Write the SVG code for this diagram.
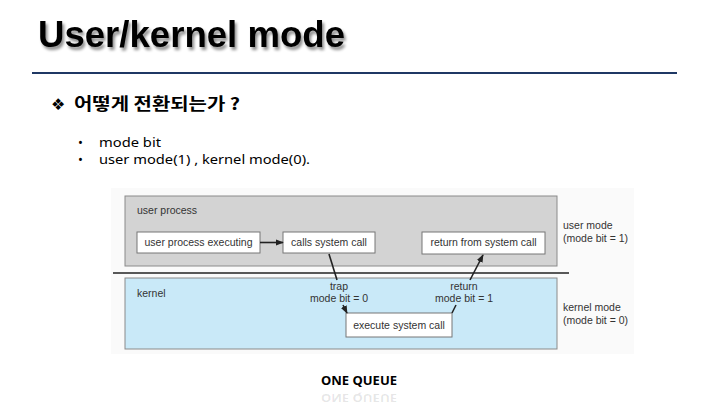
<svg xmlns="http://www.w3.org/2000/svg" width="720" height="405" viewBox="0 0 720 405">
<defs>
<style>
.t{font-family:"Liberation Sans",Arial,sans-serif;font-size:10.5px;fill:#333}
.box{fill:#fff;stroke:#777;stroke-width:1}
.conn{stroke:#222;stroke-width:1.6;fill:none}
.kr{font-family:"Noto Sans CJK KR","Noto Sans",sans-serif}
.cap{font-family:"Noto Sans","Liberation Sans",sans-serif;font-weight:bold;font-size:13px;fill:#000}
</style>
<marker id="ah" viewBox="0 0 10 10" refX="9" refY="5" markerWidth="5" markerHeight="5" orient="auto">
<path d="M0,1 L10,5 L0,9 z" fill="#222"/>
</marker>
<filter id="sh" x="-5%" y="-20%" width="115%" height="150%">
<feGaussianBlur in="SourceAlpha" stdDeviation="1.5"/>
<feOffset dx="2" dy="3" result="b"/>
<feComponentTransfer><feFuncA type="linear" slope="0.45"/></feComponentTransfer>
<feMerge><feMergeNode/><feMergeNode in="SourceGraphic"/></feMerge>
</filter>
</defs>
<rect width="720" height="405" fill="#fff"/>
<g id="title">
<text x="38" y="47" font-family="'Liberation Sans',Arial,sans-serif" font-weight="bold" font-size="36" fill="#000" textLength="307" lengthAdjust="spacingAndGlyphs" filter="url(#sh)">User/kernel mode</text>
<line x1="32" y1="73" x2="677" y2="73" stroke="#1F3864" stroke-width="2"/>
</g>
<g id="heading">
<text x="51" y="110" font-family="'DejaVu Sans',sans-serif" font-size="16" fill="#000">❖</text>
<text x="74" y="110" class="kr" font-weight="bold" font-size="17" fill="#000" textLength="166" lengthAdjust="spacingAndGlyphs">어떻게 전환되는가 ?</text>
</g>
<g id="bullets" font-family="'Noto Sans','Liberation Sans',sans-serif" font-size="13" fill="#000">
<text x="78" y="147">•</text>
<text x="99" y="147" textLength="62" lengthAdjust="spacingAndGlyphs">mode bit</text>
<text x="78" y="164">•</text>
<text x="99" y="164" textLength="211" lengthAdjust="spacingAndGlyphs">user mode(1) , kernel mode(0).</text>
</g>
<rect x="111" y="188" width="523" height="166" fill="#fafafa"/>
<g id="user-area">
<rect x="125" y="196" width="432" height="70" fill="#d3d3d3" stroke="#8a8a8a" stroke-width="1"/>
<text class="t" x="137" y="214">user process</text>
</g>
<g id="kernel-area">
<rect x="125" y="278" width="432" height="71" fill="#c9e9f8" stroke="#8a8a8a" stroke-width="1"/>
<text class="t" x="137" y="297">kernel</text>
</g>
<line x1="113" y1="273" x2="569" y2="273" stroke="#222" stroke-width="1.6"/>
<g id="user-process-executing">
<rect class="box" x="137" y="232" width="123" height="21"/>
<text class="t" x="198.5" y="246" text-anchor="middle">user process executing</text>
</g>
<g id="calls-system-call">
<rect class="box" x="283" y="232" width="92" height="21"/>
<text class="t" x="329" y="246" text-anchor="middle">calls system call</text>
</g>
<g id="return-from-system-call">
<rect class="box" x="422" y="232" width="123" height="22"/>
<text class="t" x="483.5" y="246" text-anchor="middle">return from system call</text>
</g>
<g id="execute-system-call">
<rect class="box" x="346" y="313" width="106" height="24"/>
<text class="t" x="399" y="329" text-anchor="middle">execute system call</text>
</g>
<g id="mode-labels">
<text class="t" x="563" y="229">user mode</text>
<text class="t" x="563" y="242">(mode bit = 1)</text>
<text class="t" x="563" y="311">kernel mode</text>
<text class="t" x="563" y="324">(mode bit = 0)</text>
</g>
<g id="connectors">
<line class="conn" x1="260" y1="242.5" x2="283" y2="242.5" marker-end="url(#ah)"/>
<line class="conn" x1="329" y1="254" x2="337" y2="280"/>
<line class="conn" x1="343" y1="305" x2="347" y2="313" marker-end="url(#ah)"/>
<line class="conn" x1="452" y1="313" x2="456" y2="305"/>
<line class="conn" x1="470" y1="280" x2="483" y2="255" marker-end="url(#ah)"/>
<text class="t" x="339" y="290" text-anchor="middle">trap</text>
<text class="t" x="339" y="302" text-anchor="middle">mode bit = 0</text>
<text class="t" x="464" y="290" text-anchor="middle">return</text>
<text class="t" x="464" y="302" text-anchor="middle">mode bit = 1</text>
</g>
<g id="caption">
<text class="cap" x="359" y="385" text-anchor="middle">ONE QUEUE</text>
<text class="cap" x="359" y="-526" transform="scale(1,-0.75)" text-anchor="middle" fill-opacity="0.1">ONE QUEUE</text>
</g>
</svg>
